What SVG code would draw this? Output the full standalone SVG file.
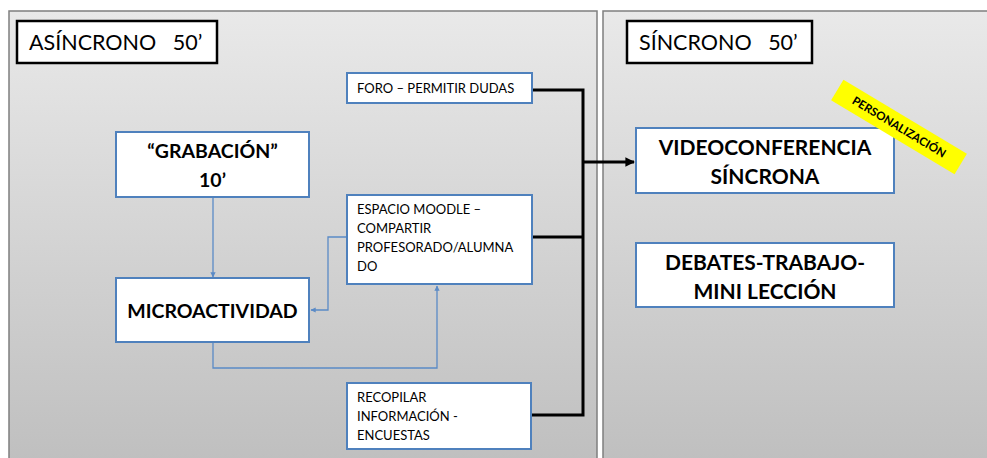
<svg xmlns="http://www.w3.org/2000/svg" width="987" height="458" viewBox="0 0 987 458">
<defs>
<linearGradient id="bg" x1="0" y1="0" x2="0" y2="1">
<stop offset="0" stop-color="#e9e9e9"/>
<stop offset="1" stop-color="#bfbfbf"/>
</linearGradient>
<marker id="ab" viewBox="0 0 10 10" refX="9" refY="5" markerWidth="4" markerHeight="4" orient="auto"><path d="M0,0 L10,5 L0,10 z" fill="#5a8ac6"/></marker>
<marker id="ak" viewBox="0 0 10 10" refX="9" refY="5" markerWidth="3.2" markerHeight="3.2" orient="auto"><path d="M0,0 L10,5 L0,10 z" fill="#000"/></marker>
</defs>
<style>
.panel{fill:url(#bg);stroke:#7f7f7f;stroke-width:1.5}
.title{fill:#fff;stroke:#000;stroke-width:2.5}
.box{fill:#fff;stroke:#4f81bd;stroke-width:2}
.t{font-family:Lato,"Open Sans",sans-serif;fill:#000}
.h{font-size:21.5px;white-space:pre}
.b{font-size:19.5px;font-weight:bold;text-anchor:middle}
.br{font-size:21px}
.s{font-size:13px}
.bl{fill:none;stroke:#5a8ac6;stroke-width:1.3}
.bk{fill:none;stroke:#000;stroke-width:3}
</style>
<rect width="987" height="458" fill="#fff"/>
<g id="panel-asincrono">
<rect class="panel" x="9" y="11" width="588" height="452"/>
<rect class="title" x="17" y="21" width="200" height="42"/>
<text class="t h" x="29" y="50" xml:space="preserve">ASÍNCRONO   50’</text>
</g>
<g id="panel-sincrono">
<rect class="panel" x="603" y="11" width="390" height="452"/>
<rect class="title" x="627" y="21" width="185" height="42"/>
<text class="t h" x="639" y="50" xml:space="preserve">SÍNCRONO   50’</text>
</g>
<g id="connectors">
<path class="bl" d="M213,197 V277" marker-end="url(#ab)"/>
<path class="bl" d="M347,237 H328 V310 H311" marker-end="url(#ab)"/>
<path class="bl" d="M213,342 V368 H437 V286" marker-end="url(#ab)"/>
<path class="bk" d="M532,90 H583 V415 H531"/>
<path class="bk" d="M532,237 H583"/>
<path class="bk" d="M583,162 H634" marker-end="url(#ak)"/>
</g>
<g id="grabacion">
<rect class="box" x="116" y="132" width="193" height="65"/>
<text class="t b" x="212.5" y="158">“GRABACIÓN”</text>
<text class="t b" x="212.5" y="187">10’</text>
</g>
<g id="microactividad">
<rect class="box" x="116" y="278" width="193" height="64"/>
<text class="t b" x="212.5" y="318">MICROACTIVIDAD</text>
</g>
<g id="foro">
<rect class="box" x="347" y="73" width="185" height="30"/>
<text class="t s" x="357" y="93">FORO – PERMITIR DUDAS</text>
</g>
<g id="espacio">
<rect class="box" x="347" y="195" width="185" height="89"/>
<text class="t s" x="357" y="214">ESPACIO MOODLE –</text>
<text class="t s" x="357" y="233">COMPARTIR</text>
<text class="t s" x="357" y="252">PROFESORADO/ALUMNA</text>
<text class="t s" x="357" y="271">DO</text>
</g>
<g id="recopilar">
<rect class="box" x="347" y="383" width="184" height="66"/>
<text class="t s" x="357" y="402">RECOPILAR</text>
<text class="t s" x="357" y="421">INFORMACIÓN -</text>
<text class="t s" x="357" y="440">ENCUESTAS</text>
</g>
<g id="videoconferencia">
<rect class="box" x="636" y="128" width="258" height="65"/>
<text class="t b br" x="765" y="155">VIDEOCONFERENCIA</text>
<text class="t b br" x="765" y="184">SÍNCRONA</text>
</g>
<g id="debates">
<rect class="box" x="636" y="243" width="258" height="64"/>
<text class="t b br" x="765" y="270">DEBATES-TRABAJO-</text>
<text class="t b br" x="765" y="299">MINI LECCIÓN</text>
</g>
<g id="personalizacion" transform="translate(899,127) rotate(31)">
<rect x="-72" y="-12" width="144" height="24" fill="#ffff00"/>
<text class="t" x="0" y="4" font-size="11.5" font-weight="bold" text-anchor="middle">PERSONALIZACIÓN</text>
</g>
</svg>
